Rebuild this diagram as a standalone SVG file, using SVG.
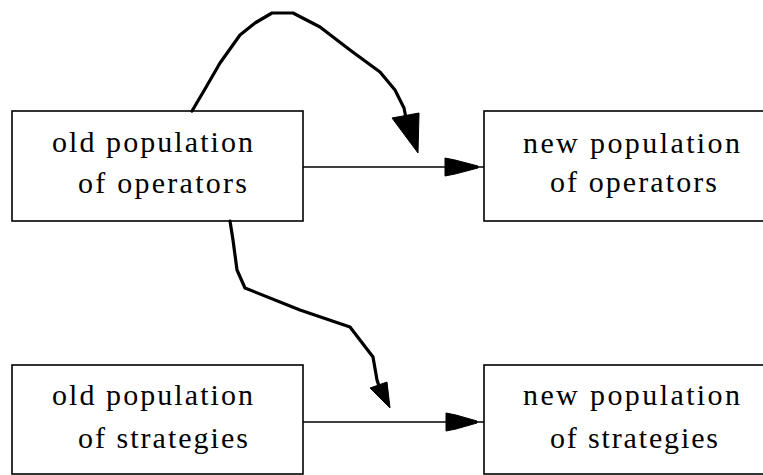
<svg xmlns="http://www.w3.org/2000/svg" width="763" height="475" viewBox="0 0 763 475">
<style>
.box{fill:#fff;stroke:#000;stroke-width:1.6}
.t{font-family:"Liberation Serif","Times New Roman",serif;font-size:30px;fill:#000}
.ln{fill:none;stroke:#000;stroke-width:1.6}
.cv{fill:none;stroke:#000;stroke-width:3.2;stroke-linejoin:round;stroke-linecap:round}
.ah{fill:#000;stroke:#000;stroke-width:1}
</style>
<rect width="763" height="475" fill="#fff"/>
<g id="old-operators">
<rect class="box" x="12" y="111" width="291" height="110"/>
<text class="t" x="52" y="152" textLength="201" lengthAdjust="spacing">old population</text>
<text class="t" x="78" y="193" textLength="169" lengthAdjust="spacing">of operators</text>
</g>
<g id="new-operators">
<rect class="box" x="484" y="111" width="290" height="110"/>
<text class="t" x="523" y="153" textLength="217" lengthAdjust="spacing">new population</text>
<text class="t" x="550" y="192" textLength="167" lengthAdjust="spacing">of operators</text>
</g>
<g id="old-strategies">
<rect class="box" x="12" y="365" width="291" height="109"/>
<text class="t" x="52" y="405" textLength="201" lengthAdjust="spacing">old population</text>
<text class="t" x="78" y="448" textLength="170" lengthAdjust="spacing">of strategies</text>
</g>
<g id="new-strategies">
<rect class="box" x="484" y="365" width="290" height="109"/>
<text class="t" x="523" y="405" textLength="217" lengthAdjust="spacing">new population</text>
<text class="t" x="550" y="448" textLength="168" lengthAdjust="spacing">of strategies</text>
</g>
<g id="connectors">
<line class="ln" x1="303" y1="167" x2="484" y2="167"/>
<polygon class="ah" points="445,158 455,160 478,166 478,168 455,174 445,176"/>
<line class="ln" x1="303" y1="422" x2="484" y2="422"/>
<polygon class="ah" points="446,413 456,415 477,421 477,423 456,429 446,431"/>
<path class="cv" d="M192,111 L205,89 L220,63 L240,35 L255,23 L272,13 L293,13 L320,27 L350,50 L380,72 L395,90 L404,108 L406,118"/>
<polygon class="ah" points="392,118 419,113 418,153"/>
<path class="cv" d="M230,221 L233,240 L237,270 L245,288 L300,310 L350,327 L373,357 L377,380 L379,386"/>
<polygon class="ah" points="370,388 387,382 390,408"/>
</g>
</svg>
